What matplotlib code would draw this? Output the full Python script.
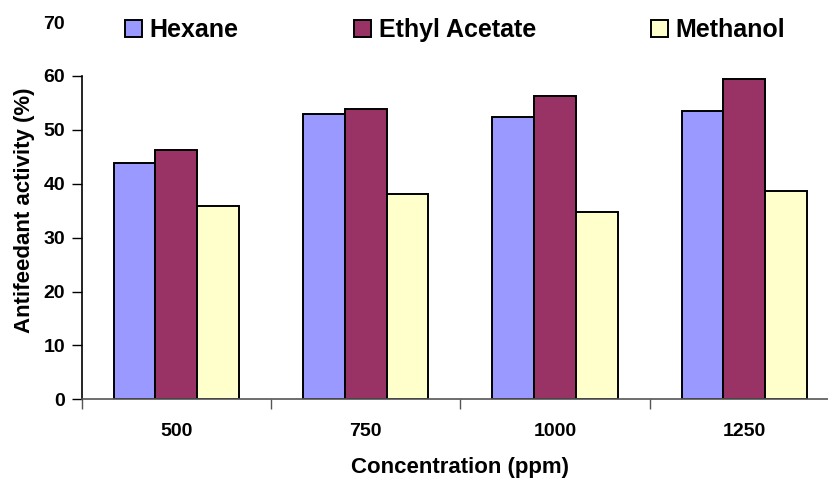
import matplotlib
matplotlib.use("Agg")
import matplotlib.pyplot as plt
import numpy as np

plt.rcParams['font.family'] = ['Liberation Sans', 'DejaVu Sans']
plt.rcParams['font.weight'] = 'bold'

categories = ['500', '750', '1000', '1250']
series_names = ['Hexane', 'Ethyl Acetate', 'Methanol']
hexane = [43.9, 53.0, 52.3, 53.4]
ethyl_acetate = [46.2, 53.8, 56.2, 59.5]
methanol = [35.8, 38.1, 34.8, 38.6]
colors = ['#9999FF', '#993366', '#FFFFCC']
yticks = [0, 10, 20, 30, 40, 50, 60, 70]

fig = plt.figure(figsize=(8.29, 4.79), dpi=100)
ax = fig.add_axes([81.7 / 829, 79.7 / 479, 757.3 / 829, 377.3 / 479])

x = np.arange(len(categories))
w = 0.221
for i, (vals, name, c) in enumerate(zip([hexane, ethyl_acetate, methanol], series_names, colors)):
    ax.bar(x + (i - 1) * w, vals, width=w, color=c, edgecolor='black', linewidth=1.4,
           label=name, zorder=2)

ax.set_xlim(-0.5, len(categories) - 0.5)
ax.set_ylim(0, 70)
ax.set_yticks(yticks)
ax.set_yticklabels([str(t) for t in yticks], fontsize=14, fontweight='bold')
ax.tick_params(axis='y', direction='out', length=7, width=1, pad=5)
ticklines = ax.yaxis.get_major_ticks()
ticklines[-1].tick1line.set_visible(False)

ax.set_xticks(np.arange(len(categories) + 1) - 0.5)
ax.set_xticklabels([])
ax.tick_params(axis='x', which='major', direction='out', length=7, width=1, color='#555555')
ax.set_xticks(x, minor=True)
ax.set_xticklabels(categories, minor=True, fontsize=14, fontweight='bold')
ax.tick_params(axis='x', which='minor', length=0, pad=17)

for s in ['top', 'right']:
    ax.spines[s].set_visible(False)
ax.spines['left'].set_bounds(0, 60)
ax.spines['left'].set_linewidth(1.2)
ax.spines['bottom'].set_color('#555555')
ax.spines['bottom'].set_linewidth(1.2)

ax.set_xlabel('Concentration (ppm)', fontsize=16, fontweight='bold', labelpad=12)
ax.set_ylabel('Antifeedant activity (%)', fontsize=16, fontweight='bold', labelpad=6)

fig.legend(loc='center', bbox_to_anchor=(455 / 829, 1 - 30 / 479), ncol=3, frameon=False,
           prop={'size': 18, 'weight': 'bold'}, handlelength=0.7, handleheight=0.7,
           handletextpad=0.3, columnspacing=4.6, borderpad=0)

fig.savefig('out.png', dpi=100)
